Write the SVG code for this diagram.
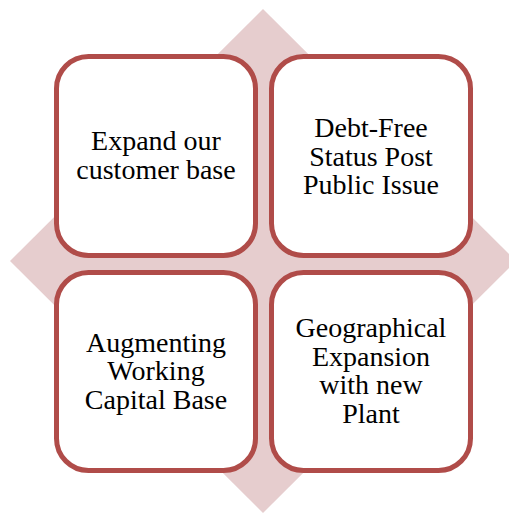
<svg xmlns="http://www.w3.org/2000/svg" width="509" height="513" viewBox="0 0 509 513">
<style>
.box{fill:#fff;stroke:#B04C49;stroke-width:5}
.t{font-family:"Liberation Serif","Times New Roman",serif;font-size:28px;fill:#000;text-anchor:middle}
</style>
<rect width="509" height="513" fill="#fff"/>
<polygon points="263,9 516,261 263,513 10,261" fill="#E6CDCE"/>
<g id="n1"><rect class="box" x="56.5" y="56.5" width="199" height="199" rx="32"/>
<text class="t" x="156" y="150">Expand our</text><text class="t" x="156" y="179">customer base</text></g>
<g id="n2"><rect class="box" x="271.5" y="56.5" width="199" height="199" rx="32"/>
<text class="t" x="371" y="137">Debt-Free</text><text class="t" x="371" y="166">Status Post</text><text class="t" x="371" y="194">Public Issue</text></g>
<g id="n3"><rect class="box" x="56.5" y="272.5" width="199" height="198" rx="32"/>
<text class="t" x="156" y="352">Augmenting</text><text class="t" x="156" y="380">Working</text><text class="t" x="156" y="409">Capital Base</text></g>
<g id="n4"><rect class="box" x="271.5" y="272.5" width="199" height="198" rx="32"/>
<text class="t" x="371" y="337">Geographical</text><text class="t" x="371" y="366">Expansion</text><text class="t" x="371" y="394">with new</text><text class="t" x="371" y="423">Plant</text></g>
<g id="connectors"/>
</svg>
